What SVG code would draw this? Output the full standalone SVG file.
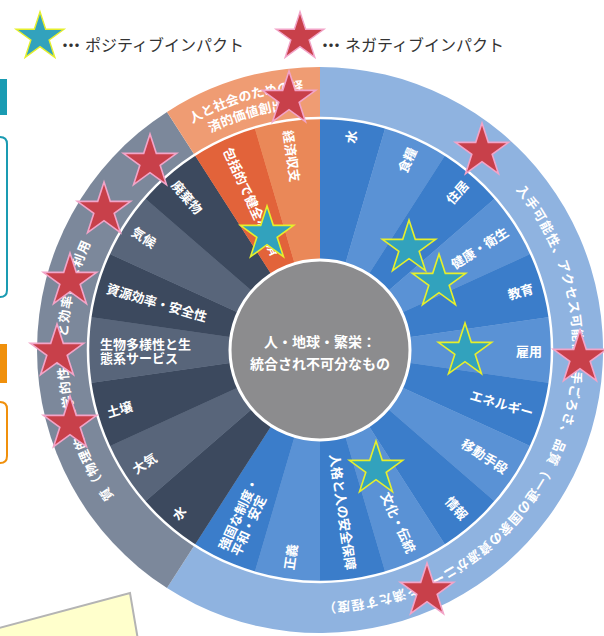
<svg xmlns="http://www.w3.org/2000/svg" xmlns:xlink="http://www.w3.org/1999/xlink" width="604" height="636" viewBox="0 0 604 636">
<style>
.lbl{font-family:"Noto Sans CJK JP","Noto Sans",sans-serif;font-size:13px;font-weight:bold;fill:#ffffff;dominant-baseline:central}
.ring{font-family:"Noto Sans CJK JP","Noto Sans",sans-serif;font-size:13px;font-weight:bold;fill:#ffffff}
.leg{font-family:"Noto Sans CJK JP","Noto Sans",sans-serif;font-size:16px;fill:#333333;dominant-baseline:central}
.ctr{font-family:"Noto Sans CJK JP","Noto Sans",sans-serif;font-size:14px;font-weight:bold;fill:#ffffff;text-anchor:middle;dominant-baseline:central}
.bd{fill:#3b7dca}.bl{fill:#5a92d5}
.gd{fill:#3c495e}.gl{fill:#58657a}
.r{text-anchor:end}
.redstar{fill:#c8404a;stroke:#f2a4c8;stroke-width:1.6}
.cyanstar{fill:#32a2bd;stroke:#e6ef2c;stroke-width:1.6}
</style>
<defs>
<path id="star" d="M0,-28 L6.29,-8.66 L26.63,-8.65 L10.18,3.31 L16.46,22.65 L0,10.7 L-16.46,22.65 L-10.18,3.31 L-26.63,-8.65 L-6.29,-8.66 Z"/>
<path id="arcO1" d="M152.87,150.83 A260,260 0 0 1 351.69,91.94"/>
<path id="arcO2" d="M160.58,166.61 A243,243 0 0 1 345.40,108.33"/>
<path id="arcB" d="M513.81,187.37 A253,253 0 0 1 193.5,569.10"/>
<path id="arcG" d="M126.19,512.63 A253,253 0 0 1 100.89,223.5"/>
</defs>
<rect width="604" height="636" fill="#ffffff"/>

<g id="side-marks">
<rect x="0" y="79" width="7" height="36" fill="#1a9bb2"/>
<path d="M-4,137 L0,137 Q7,137 7,144 L7,290 Q7,297 0,297 L-4,297" fill="none" stroke="#1a9bb2" stroke-width="2"/>
<rect x="0" y="344" width="7" height="39" fill="#f0900c"/>
<path d="M-4,402 L0,402 Q7,402 7,409 L7,456 Q7,463 0,463 L-4,463" fill="none" stroke="#f0900c" stroke-width="2"/>
</g>

<g id="outer-ring">
<path d="M320,350 L320,67 A283,283 0 1 1 167.0,588.07 Z" fill="#8fb3e0"/>
<path d="M320,350 L167.0,588.07 A283,283 0 0 1 167.0,111.93 Z" fill="#7c889b"/>
<path d="M320,350 L167.0,111.93 A283,283 0 0 1 320,67 Z" fill="#ef9c73"/>
</g>

<g id="segments">
<path class="bd" d="M320,350 L320,118 A232,232 0 0 1 385.36,127.40 Z"/>
<path class="bl" d="M320,350 L385.36,127.40 A232,232 0 0 1 445.43,154.83 Z"/>
<path class="bd" d="M320,350 L445.43,154.83 A232,232 0 0 1 495.33,198.07 Z"/>
<path class="bl" d="M320,350 L495.33,198.07 A232,232 0 0 1 531.03,253.62 Z"/>
<path class="bd" d="M320,350 L531.03,253.62 A232,232 0 0 1 549.64,316.98 Z"/>
<path class="bl" d="M320,350 L549.64,316.98 A232,232 0 0 1 549.64,383.02 Z"/>
<path class="bd" d="M320,350 L549.64,383.02 A232,232 0 0 1 531.03,446.38 Z"/>
<path class="bl" d="M320,350 L531.03,446.38 A232,232 0 0 1 495.33,501.93 Z"/>
<path class="bd" d="M320,350 L495.33,501.93 A232,232 0 0 1 445.43,545.17 Z"/>
<path class="bl" d="M320,350 L445.43,545.17 A232,232 0 0 1 385.36,572.60 Z"/>
<path class="bd" d="M320,350 L385.36,572.60 A232,232 0 0 1 320,582 Z"/>
<path class="bl" d="M320,350 L320,582 A232,232 0 0 1 254.64,572.60 Z"/>
<path class="bd" d="M320,350 L254.64,572.60 A232,232 0 0 1 194.57,545.17 Z"/>
<path class="gd" d="M320,350 L194.57,545.17 A232,232 0 0 1 144.67,501.93 Z"/>
<path class="gl" d="M320,350 L144.67,501.93 A232,232 0 0 1 108.97,446.38 Z"/>
<path class="gd" d="M320,350 L108.97,446.38 A232,232 0 0 1 90.36,383.02 Z"/>
<path class="gl" d="M320,350 L90.36,383.02 A232,232 0 0 1 90.36,316.98 Z"/>
<path class="gd" d="M320,350 L90.36,316.98 A232,232 0 0 1 108.97,253.62 Z"/>
<path class="gl" d="M320,350 L108.97,253.62 A232,232 0 0 1 144.67,198.07 Z"/>
<path class="gd" d="M320,350 L144.67,198.07 A232,232 0 0 1 194.57,154.83 Z"/>
<path fill="#e2633a" d="M320,350 L194.57,154.83 A232,232 0 0 1 254.64,127.40 Z"/>
<path fill="#ea8858" d="M320,350 L254.64,127.40 A232,232 0 0 1 320,118 Z"/>
<circle cx="320" cy="350" r="232" fill="none" stroke="#ffffff" stroke-width="2.5"/>
</g>

<g id="segment-labels">
<text class="lbl r" transform="rotate(-81.818 320 350)" x="542" y="350">水</text>
<text class="lbl r" transform="rotate(-65.455 320 350)" x="542" y="350">食糧</text>
<text class="lbl r" transform="rotate(-49.091 320 350)" x="542" y="350">住居</text>
<text class="lbl r" transform="rotate(-32.727 320 350)" x="542" y="350">健康・衛生</text>
<text class="lbl r" transform="rotate(-16.364 320 350)" x="542" y="350">教育</text>
<text class="lbl r" x="542" y="350">雇用</text>
<text class="lbl r" transform="rotate(16.364 320 350)" x="542" y="350">エネルギー</text>
<text class="lbl r" transform="rotate(32.727 320 350)" x="542" y="350">移動手段</text>
<text class="lbl r" transform="rotate(49.091 320 350)" x="542" y="350">情報</text>
<text class="lbl r" transform="rotate(65.455 320 350)" x="542" y="350">文化・伝統</text>
<text class="lbl r" transform="rotate(81.818 320 350)" x="542" y="350">人格と人の安全保障</text>
<text class="lbl" transform="rotate(-81.818 320 350)" x="98" y="350">正義</text>
<text class="lbl" transform="rotate(-65.455 320 350)" x="98" y="350"><tspan x="98" y="343">強固な制度・</tspan><tspan x="98" y="357">平和・安定</tspan></text>
<text class="lbl" transform="rotate(-49.091 320 350)" x="98" y="350">水</text>
<text class="lbl" transform="rotate(-32.727 320 350)" x="98" y="350">大気</text>
<text class="lbl" transform="rotate(-16.364 320 350)" x="98" y="350">土壌</text>
<text class="lbl" x="100" y="350"><tspan x="100" y="343">生物多様性と生</tspan><tspan x="100" y="357">態系サービス</tspan></text>
<text class="lbl" transform="rotate(16.364 320 350)" x="98" y="350">資源効率・安全性</text>
<text class="lbl" transform="rotate(32.727 320 350)" x="98" y="350">気候</text>
<text class="lbl" transform="rotate(49.091 320 350)" x="98" y="350">廃棄物</text>
<text class="lbl" transform="rotate(65.455 320 350)" x="98" y="350">包括的で健全な経済</text>
<text class="lbl" transform="rotate(81.818 320 350)" x="98" y="350">経済収支</text>
</g>

<g id="ring-labels">
<text class="ring" text-anchor="middle"><textPath xlink:href="#arcO1" href="#arcO1" startOffset="50%">人と社会のための経</textPath></text>
<text class="ring" text-anchor="middle"><textPath xlink:href="#arcO2" href="#arcO2" startOffset="50%">済的価値創出</textPath></text>
<text class="ring" letter-spacing="0.9"><textPath xlink:href="#arcB" href="#arcB" startOffset="3">入手可能性、アクセス可能性、手ごろさ、品質（一連の国家の資源がニーズを満たす程度）</textPath></text>
<text class="ring" letter-spacing="1.1"><textPath xlink:href="#arcG" href="#arcG" startOffset="20">質（物理的・化学的性質）と効率的な利用</textPath></text>
</g>

<g id="center">
<circle cx="320" cy="350" r="90" fill="#8c8c8e" stroke="#ffffff" stroke-width="3"/>
<text class="ctr" x="320" y="341">人・地球・繁栄：</text>
<text class="ctr" x="320" y="363">統合され不可分なもの</text>
</g>

<g id="negative-stars">
<use href="#star" class="redstar" transform="translate(289,99)"/>
<use href="#star" class="redstar" transform="translate(150,162)"/>
<use href="#star" class="redstar" transform="translate(104,210)"/>
<use href="#star" class="redstar" transform="translate(70,281)"/>
<use href="#star" class="redstar" transform="translate(57,352)"/>
<use href="#star" class="redstar" transform="translate(70,424)"/>
<use href="#star" class="redstar" transform="translate(482,151)"/>
<use href="#star" class="redstar" transform="translate(580,358)"/>
<use href="#star" class="redstar" transform="translate(427,591)"/>
</g>

<g id="positive-stars">
<use href="#star" class="cyanstar" transform="translate(267,234)"/>
<use href="#star" class="cyanstar" transform="translate(409,248)"/>
<use href="#star" class="cyanstar" transform="translate(439,282)"/>
<use href="#star" class="cyanstar" transform="translate(465,351)"/>
<use href="#star" class="cyanstar" transform="translate(376,469)"/>
</g>

<g id="legend">
<use href="#star" class="cyanstar" transform="translate(40,37) scale(0.9)"/>
<text class="leg" x="57" y="44"><tspan letter-spacing="-10">・・</tspan>・ポジティブインパクト</text>
<use href="#star" class="redstar" transform="translate(300,37) scale(0.9)"/>
<text class="leg" x="317" y="44"><tspan letter-spacing="-10">・・</tspan>・ネガティブインパクト</text>
</g>

<g id="note-box">
<polygon points="-5,629 130,593 138,640 -5,640" fill="#ffffcc" stroke="#b4b4b4" stroke-width="2"/>
</g>
</svg>
